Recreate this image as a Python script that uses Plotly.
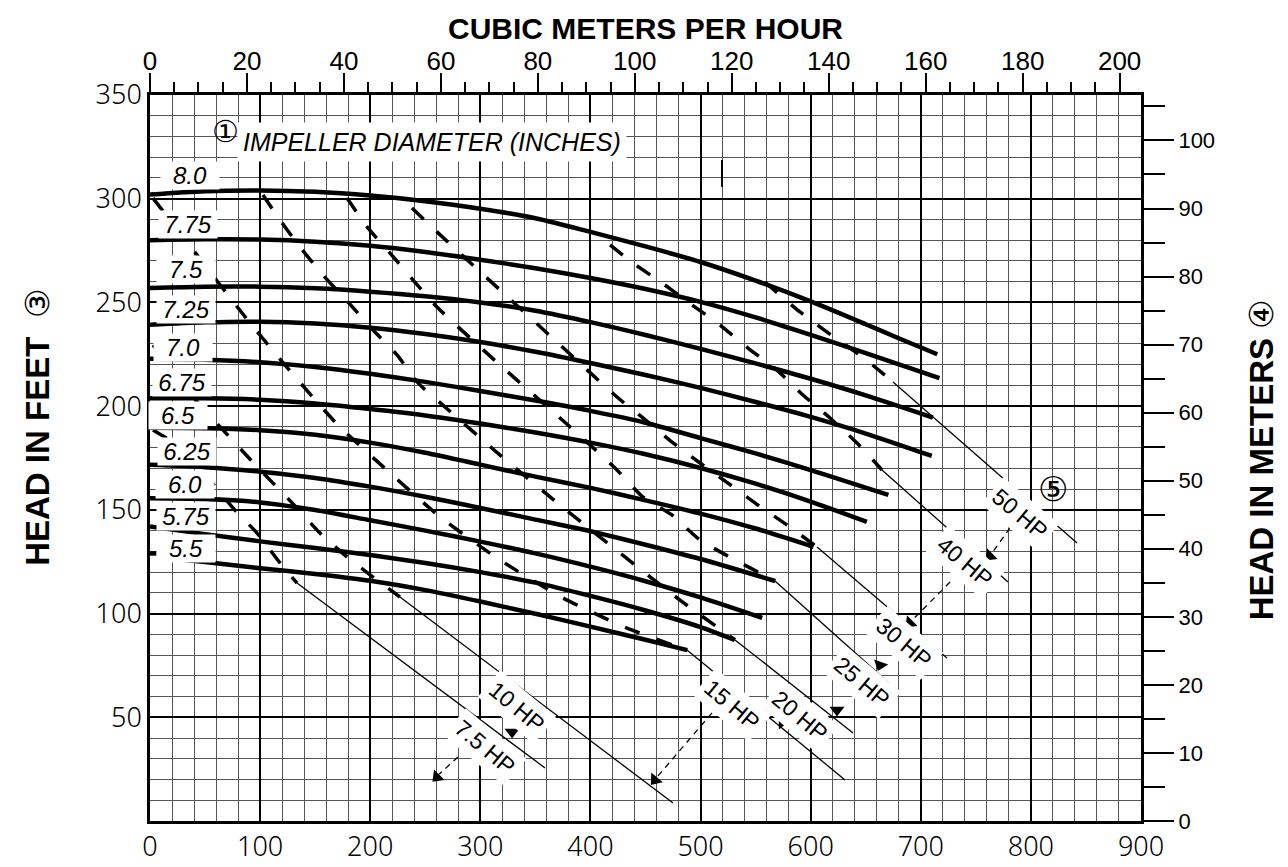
import plotly.graph_objects as go

# ---------------- data (GPM, feet) ----------------
GPM_PER_M3H = 4.40287
M_PER_FT = 0.3048

# impeller diameter curves (flow in US GPM, head in feet)
c80_q = [0, 50, 100, 150, 200, 250, 300, 350, 400, 450, 500, 550, 600, 650, 681, 715]
c80_h = [302, 303.6, 304.0, 303.3, 301.5, 298.8, 295.2, 290.6, 284.0, 277.0, 269.5, 260.5, 250.5, 239.5, 232.5, 225.0]
c775_q = [0, 50, 100, 150, 200, 250, 300, 350, 400, 450, 500, 550, 600, 650, 717]
c775_h = [280, 280.4, 280.3, 279.3, 277.3, 274.3, 270.6, 266.5, 261.8, 256.5, 250.3, 242.8, 234.4, 225.6, 213.5]
c75_q = [0, 50, 100, 150, 200, 250, 300, 350, 400, 450, 500, 550, 600, 650, 711]
c75_h = [257, 257.6, 257.6, 256.8, 255.2, 253.0, 250.0, 246.0, 240.5, 234.3, 227.6, 220.6, 213.2, 205.2, 194.5]
c725_q = [0, 50, 100, 150, 200, 250, 300, 350, 400, 450, 500, 550, 600, 650, 710]
c725_h = [239.2, 240.4, 240.7, 239.8, 237.8, 234.8, 230.9, 226.2, 220.8, 215.0, 208.8, 202.0, 194.8, 186.8, 176.0]
c70_q = [0, 50, 100, 150, 200, 250, 300, 350, 400, 450, 500, 550, 600, 670.6]
c70_h = [222.8, 222.4, 221.2, 218.9, 215.6, 211.7, 207.3, 202.7, 197.7, 192.0, 184.6, 177.2, 169.2, 157.2]
c675_q = [0, 50, 100, 150, 200, 250, 300, 350, 400, 450, 500, 550, 600, 651]
c675_h = [203.8, 203.8, 203.1, 201.3, 198.6, 195.5, 191.6, 187.3, 182.4, 176.8, 170.2, 162.6, 154.0, 144.2]
c65_q = [0, 50, 100, 150, 200, 250, 300, 350, 400, 450, 500, 550, 602.5]
c65_h = [189.6, 189.4, 188.4, 186.2, 182.4, 177.5, 171.8, 166.0, 160.6, 154.6, 148.2, 141.0, 132.2]
c625_q = [0, 50, 100, 150, 200, 250, 300, 350, 400, 450, 500, 567.7]
c625_h = [171.7, 170.6, 168.4, 165.4, 161.2, 156.3, 150.9, 145.3, 139.7, 133.2, 126.3, 115.7]
c60_q = [0, 50, 100, 150, 200, 250, 300, 350, 400, 450, 500, 556]
c60_h = [155.6, 155.2, 153.6, 149.9, 145.0, 140.0, 134.7, 129.0, 122.6, 115.6, 107.8, 97.9]
c575_q = [0, 50, 100, 150, 200, 250, 300, 350, 400, 450, 500, 531]
c575_h = [142.0, 138.3, 134.8, 131.6, 128.2, 124.4, 120.0, 114.9, 108.5, 101.5, 93.5, 87.3]
c55_q = [18, 50, 100, 150, 200, 250, 300, 350, 400, 450, 488]
c55_h = [126.6, 124.9, 121.9, 119.1, 115.8, 111.3, 105.8, 99.9, 93.7, 87.4, 82.4]

diam_labels = ["8.0", "7.75", "7.5", "7.25", "7.0", "6.75", "6.5", "6.25", "6.0", "5.75", "5.5"]
diam_label_q = [36.3, 34.5, 32.7, 32.7, 30.0, 29.1, 25.4, 33.6, 31.8, 32.7, 32.7]
diam_label_h = [311.4, 287.8, 266.1, 246.8, 228.5, 211.2, 195.7, 177.9, 162.0, 147.0, 131.6]

# horsepower lines: dashed part, then thin solid part
hp75_dq = [2.7, 33.6, 54.5, 75.4, 97.2, 118.1, 133.5]
hp75_dh = [188.5, 177.9, 164.4, 150.9, 138.8, 124.4, 114.7]
hp75_sq = [133.5, 358.7]
hp75_sh = [114.7, 25.6]

hp10_dq = [2.7, 45.4, 68.1, 89.0, 111.7, 133.5, 154.4, 178.9, 202.5, 227.0]
hp10_dh = [229.5, 200.5, 187.5, 175.5, 162.9, 150.9, 138.8, 127.3, 117.6, 108.0]
hp10_sq = [227.0, 475.0]
hp10_sh = [108.0, 8.7]

hp15_dq = [2.7, 42.7, 83.6, 122.6, 170.7, 218.0, 263.4, 317.9, 375.1, 433.2, 487.7]
hp15_dh = [300.3, 272.9, 244.9, 219.8, 190.9, 167.8, 146.6, 125.8, 107.5, 93.0, 82.4]
hp15_sq = [487.7, 631.2]
hp15_sh = [82.4, 19.8]

hp20_dq = [102.6, 118.1, 136.2, 157.1, 179.8, 202.5, 224.3, 243.4, 267.9, 317.9, 372.4, 426.8, 481.3, 531.3]
hp20_dh = [301.8, 289.7, 276.7, 263.2, 250.2, 236.7, 224.7, 211.2, 199.6, 176.4, 152.3, 129.2, 106.5, 87.3]
hp20_sq = [531.3, 638.5]
hp20_sh = [87.3, 42.4]

hp25_dq = [178.9, 197.1, 218.0, 238.9, 260.6, 317.9, 372.4, 422.3, 447.7, 474.1, 499.5, 567.6]
hp25_dh = [300.3, 286.4, 273.8, 260.8, 247.8, 219.8, 194.3, 170.2, 156.2, 147.5, 135.5, 115.7]
hp25_sq = [567.6, 681.2]
hp25_sh = [115.7, 61.7]

hp30_dq = [237.9, 260.6, 317.9, 372.4, 424.1, 447.7, 474.1, 499.5, 524.9, 552.2, 578.5, 605.8]
hp30_dh = [295.5, 284.0, 256.0, 229.5, 204.4, 194.3, 182.7, 172.6, 162.9, 152.3, 142.7, 132.1]
hp30_sq = [605.8, 723.8]
hp30_sh = [132.1, 78.6]

hp40_dq = [417.8, 438.7, 465.0, 492.2, 517.7, 543.1, 569.4, 593.0, 617.6, 642.1, 664.8]
hp40_dh = [277.7, 269.0, 259.4, 248.8, 239.1, 228.0, 217.4, 205.4, 194.3, 182.2, 169.2]
hp40_sq = [664.8, 779.2]
hp40_sh = [169.2, 115.2]

hp50_dq = [558.5, 590.3, 622.1, 642.1, 653.9, 668.4]
hp50_dh = [259.8, 245.4, 232.9, 225.6, 220.8, 214.5]
hp50_sq = [674.8, 841.9]
hp50_sh = [211.6, 134.0]

hp_labels = ["7.5 HP", "10 HP", "15 HP", "20 HP", "25 HP", "30 HP", "40 HP", "50 HP"]
hp_label_q = [304.2, 333.3, 528.6, 590.3, 646.6, 684.8, 740.2, 790.1]
hp_label_h = [35.7, 55.0, 55.9, 50.6, 67.0, 85.8, 124.9, 148.0]

# arrow leaders (dashed) and arrow tips
lead75_q = [279.7, 262.5]
lead75_h = [30.9, 22.5]
lead15_q = [510.4, 461.0]
lead15_h = [52.1, 21.5]
lead40_q = [726.6, 692.5]
lead40_h = [115.2, 97.0]
lead50_q = [781.0, 764.5]
lead50_h = [141.3, 129.0]
tip_q = [260.7, 328.8, 458.6, 574.0, 623.9, 663.0, 690.2, 762.9]
tip_h = [21.2, 42.9, 19.8, 47.7, 53.5, 75.2, 95.5, 127.8]
tip_angle = [45, 0, 40, -90, 0, 20, 45, 45]

# small stray marks of the original drawing
stray1_q = [0, 6]
stray1_h = [129.0, 129.0]
stray2_q = [519.5, 519.5]
stray2_h = [318.7, 305.7]

bottom_ticks = list(range(0, 901, 100))
left_ticks = list(range(0, 351, 50))
left_text = [""] + [str(v) for v in left_ticks[1:]]

# ---------------- figure ----------------
fig = go.Figure()

curves = [(c80_q, c80_h), (c775_q, c775_h), (c75_q, c75_h), (c725_q, c725_h),
          (c70_q, c70_h), (c675_q, c675_h), (c65_q, c65_h), (c625_q, c625_h),
          (c60_q, c60_h), (c575_q, c575_h), (c55_q, c55_h)]
hp_lines = [(hp75_dq, hp75_dh, hp75_sq, hp75_sh), (hp10_dq, hp10_dh, hp10_sq, hp10_sh),
            (hp15_dq, hp15_dh, hp15_sq, hp15_sh), (hp20_dq, hp20_dh, hp20_sq, hp20_sh),
            (hp25_dq, hp25_dh, hp25_sq, hp25_sh), (hp30_dq, hp30_dh, hp30_sq, hp30_sh),
            (hp40_dq, hp40_dh, hp40_sq, hp40_sh), (hp50_dq, hp50_dh, hp50_sq, hp50_sh)]

for dq, dh, sq, sh in hp_lines:
    fig.add_trace(go.Scatter(x=dq, y=dh, mode="lines",
                             line=dict(color="black", width=3.5, dash="16px,18px",
                                       shape="spline", smoothing=0.6),
                             hoverinfo="skip", showlegend=False))
    fig.add_trace(go.Scatter(x=sq, y=sh, mode="lines",
                             line=dict(color="black", width=1.3),
                             hoverinfo="skip", showlegend=False))

for q, h in curves:
    fig.add_trace(go.Scatter(x=q, y=h, mode="lines",
                             line=dict(color="black", width=4.5, shape="spline", smoothing=0.8),
                             hoverinfo="skip", showlegend=False))

for sq_, sh_, w in [(stray1_q, stray1_h, 4.5), (stray2_q, stray2_h, 2)]:
    fig.add_trace(go.Scatter(x=sq_, y=sh_, mode="lines", line=dict(color="black", width=w),
                             hoverinfo="skip", showlegend=False))

for lq, lh in [(lead75_q, lead75_h), (lead15_q, lead15_h), (lead40_q, lead40_h), (lead50_q, lead50_h)]:
    fig.add_trace(go.Scatter(x=lq, y=lh, mode="lines",
                             line=dict(color="black", width=1.3, dash="6px,5px"),
                             hoverinfo="skip", showlegend=False))

fig.add_trace(go.Scatter(x=tip_q, y=tip_h, mode="markers",
                         marker=dict(symbol="triangle-down", size=13, color="black",
                                     angle=tip_angle, line=dict(width=0)),
                         hoverinfo="skip", showlegend=False))

# invisible trace to carry the metric axes
fig.add_trace(go.Scatter(x=[0], y=[0], xaxis="x2", yaxis="y2", mode="markers",
                         marker=dict(opacity=0), hoverinfo="skip", showlegend=False))

tickfont_thin = dict(family="Noto Sans, Liberation Sans, Arial", size=27, color="black", weight=300)
tickfont_top = dict(family="Liberation Sans, Arial", size=26, color="black")
tickfont_right = dict(family="Liberation Sans, Arial", size=22, color="black")

fig.update_layout(
    width=1288, height=867,
    margin=dict(l=142, r=155, t=87, b=54),
    paper_bgcolor="white", plot_bgcolor="white",
    xaxis=dict(range=[0, 900], tickmode="array", tickvals=bottom_ticks, automargin=False,
               showgrid=True, gridcolor="black", gridwidth=1.8,
               minor=dict(dtick=20, tick0=0, showgrid=True, gridcolor="#555555", gridwidth=1),
               showline=True, linecolor="black", linewidth=2.5, mirror=True,
               ticks="", zeroline=False, tickfont=tickfont_thin),
    yaxis=dict(range=[0, 350], tickmode="array", tickvals=left_ticks, ticktext=left_text,
               automargin=False,
               showgrid=True, gridcolor="black", gridwidth=1.8,
               minor=dict(dtick=10, tick0=0, showgrid=True, gridcolor="#555555", gridwidth=1),
               showline=True, linecolor="black", linewidth=2.5, mirror=True,
               ticks="", zeroline=False, tickfont=tickfont_thin),
    xaxis2=dict(overlaying="x", side="top", anchor="y", automargin=False,
                range=[0, 900 / GPM_PER_M3H], tickmode="linear", tick0=0, dtick=20,
                ticks="outside", ticklen=21, tickwidth=2, tickcolor="black",
                ticklabelstandoff=-7,
                minor=dict(dtick=5, tick0=0, ticks="outside", ticklen=12, tickwidth=1.5,
                           tickcolor="black", showgrid=False),
                showgrid=False, zeroline=False, showline=False, tickfont=tickfont_top),
    yaxis2=dict(overlaying="y", side="right", anchor="x", automargin=False,
                range=[0, 350 * M_PER_FT], tickmode="linear", tick0=0, dtick=10,
                ticks="outside", ticklen=32, tickwidth=2, tickcolor="black",
                minor=dict(dtick=5, tick0=0, ticks="outside", ticklen=23, tickwidth=2,
                           tickcolor="black", showgrid=False),
                showgrid=False, zeroline=False, showline=False, tickfont=tickfont_right),
)

ann = []
ann.append(dict(text="<b>CUBIC METERS PER HOUR</b>", xref="paper", yref="paper",
                x=0.5, y=1.092, showarrow=False, xanchor="center", yanchor="middle",
                borderpad=0, borderwidth=0,
                font=dict(family="Liberation Sans, Arial", size=30, color="black")))
ann.append(dict(text="<b>HEAD IN FEET</b>&nbsp;&nbsp;③", xref="paper", yref="paper",
                x=-0.113, y=0.543, showarrow=False, textangle=-90,
                xanchor="center", yanchor="middle",
                font=dict(family="Liberation Sans, Arial", size=33, color="black")))
ann.append(dict(text="<b>HEAD IN METERS</b>&nbsp;④", xref="paper", yref="paper",
                x=1.122, y=0.498, showarrow=False, textangle=-90,
                xanchor="center", yanchor="middle",
                font=dict(family="Liberation Sans, Arial", size=33, color="black")))
# impeller label
ann.append(dict(text="<i>IMPELLER DIAMETER (INCHES)</i>", x=256, y=327.5, xref="x", yref="y",
                showarrow=False, bgcolor="white", borderpad=5,
                font=dict(family="Liberation Sans, Arial", size=25, color="black")))
ann.append(dict(text="①", x=69.0, y=332.6, xref="x", yref="y", showarrow=False,
                font=dict(family="DejaVu Sans", size=30, color="black")))
ann.append(dict(text="⑤", x=820.5, y=160.0, xref="x", yref="y", showarrow=False,
                font=dict(family="DejaVu Sans", size=34, color="black")))

for t, q, h in zip(diam_labels, diam_label_q, diam_label_h):
    ann.append(dict(text="<i>" + t + "</i>", x=q, y=h, xref="x", yref="y", showarrow=False,
                    bgcolor="white", width=58, borderpad=0,
                    font=dict(family="Liberation Sans, Arial", size=24, color="black")))

for t, q, h in zip(hp_labels, hp_label_q, hp_label_h):
    ann.append(dict(text=t, x=q, y=h, xref="x", yref="y", showarrow=False,
                    textangle=40, bgcolor="white", borderpad=4,
                    font=dict(family="Liberation Sans, Arial", size=23, color="black")))

fig.update_layout(annotations=ann)
fig.write_html("out.html")
